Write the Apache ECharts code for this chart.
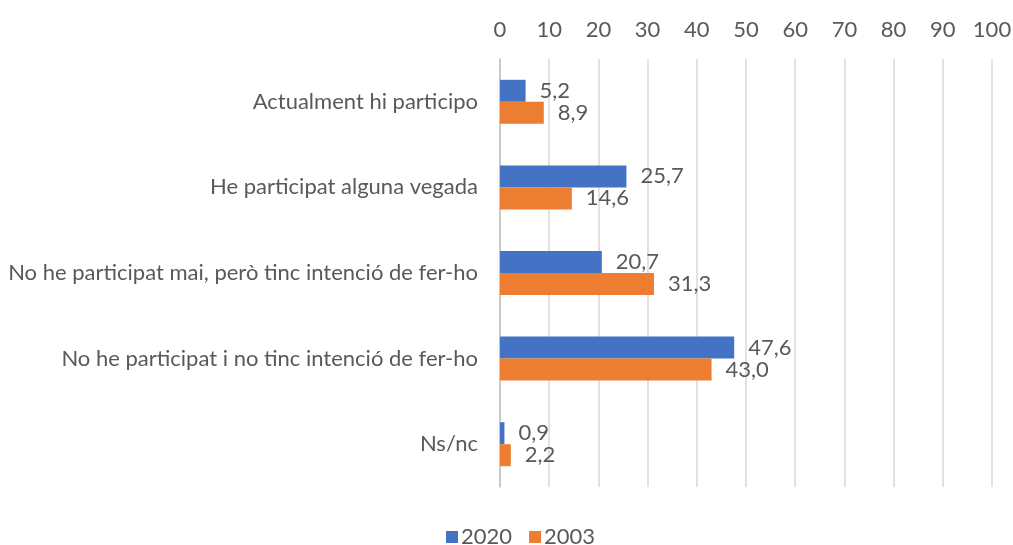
<!DOCTYPE html>
<html>
<head>
<meta charset="utf-8">
<title>Participació</title>
<script src="https://cdn.jsdelivr.net/npm/echarts@6/dist/echarts.min.js"></script>
<style>
  html, body { margin: 0; padding: 0; background: #fff; }
  #chart { width: 1013px; height: 545px; }
</style>
</head>
<body>
<div id="chart"></div>
<script>
var categories = [
    'Actualment hi participo',
    'He participat alguna vegada',
    'No he participat mai, però tinc intenció de fer-ho',
    'No he participat i no tinc intenció de fer-ho',
    'Ns/nc'
];
var values2020 = [5.2, 25.7, 20.7, 47.6, 0.9];
var values2003 = [8.9, 14.6, 31.3, 43.0, 2.2];

var fontFamily = 'Lato, "Noto Sans", sans-serif';

function fmt(p) {
    return p.value.toFixed(1).replace('.', ',');
}

var chart = echarts.init(document.getElementById('chart'));
chart.setOption({
    animation: false,
    textStyle: { fontFamily: fontFamily },
    grid: { left: 500, right: 21, top: 59, bottom: 58, containLabel: false, outerBoundsMode: 'none' },
    legend: {
        bottom: -8,
        left: 441,
        itemWidth: 12,
        itemHeight: 12,
        itemGap: 17,
        icon: 'rect',
        textStyle: { fontSize: 22, color: '#595959', padding: [0, 0, 0, -2] },
        data: ['2020', '2003']
    },
    xAxis: {
        type: 'value',
        position: 'top',
        min: 0,
        max: 100,
        interval: 10,
        axisLine: { show: false },
        axisTick: { show: false },
        axisLabel: { fontSize: 22, color: '#595959', margin: 18 },
        splitLine: { lineStyle: { color: '#d9d9d9', width: 1.5 } }
    },
    yAxis: {
        type: 'category',
        inverse: true,
        data: categories,
        axisLine: { lineStyle: { color: '#bfbfbf', width: 1.5 } },
        axisTick: { show: false },
        axisLabel: { fontSize: 22, color: '#595959', margin: 22 }
    },
    series: [
        {
            name: '2020',
            type: 'bar',
            data: values2020,
            barWidth: 22,
            barGap: '0%',
            itemStyle: { color: '#4472C4' },
            label: { show: true, position: 'right', distance: 14, fontSize: 22, color: '#595959', formatter: fmt }
        },
        {
            name: '2003',
            type: 'bar',
            data: values2003,
            barWidth: 22,
            barGap: '0%',
            itemStyle: { color: '#ED7D31' },
            label: { show: true, position: 'right', distance: 14, fontSize: 22, color: '#595959', formatter: fmt }
        }
    ]
});
</script>
</body>
</html>
